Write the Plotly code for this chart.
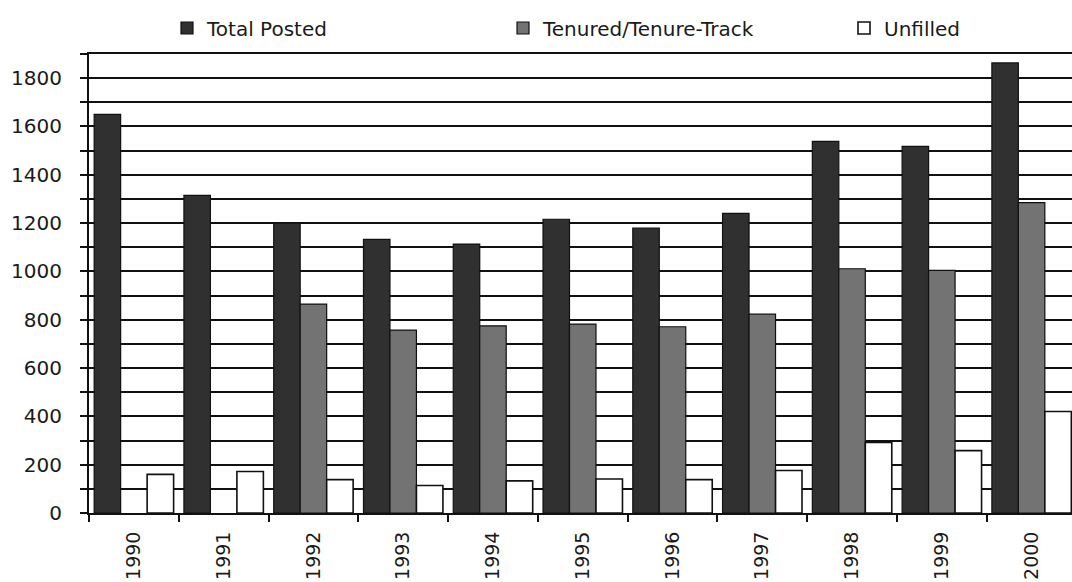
import plotly.graph_objects as go

years = ["1990", "1991", "1992", "1993", "1994", "1995", "1996", "1997", "1998", "1999", "2000"]
total_posted = [1650, 1315, 1200, 1133, 1113, 1216, 1179, 1240, 1538, 1518, 1863]
tenured_track = [None, None, 865, 757, 775, 782, 771, 823, 1011, 1004, 1285]
unfilled = [160, 172, 138, 114, 133, 141, 138, 176, 292, 258, 420]

y_tick_vals = [0, 200, 400, 600, 800, 1000, 1200, 1400, 1600, 1800]
y_tick_text = ["0", "200", "400", "600", "800", "1000", "1200", "1400", "1600", "1800"]

FONT = "DejaVu Sans"
INK = "#1a1a1a"

fig = go.Figure()
fig.add_trace(go.Bar(x=years, y=total_posted, name="Total Posted",
                     marker=dict(color="#303030", line=dict(color="#111", width=1.2)),
                     legend="legend", showlegend=True))
fig.add_trace(go.Bar(x=years, y=tenured_track, name="Tenured/Tenure-Track",
                     marker=dict(color="#737373", line=dict(color="#111", width=1.2)),
                     legend="legend2", showlegend=True))
fig.add_trace(go.Bar(x=years, y=unfilled, name="Unfilled",
                     marker=dict(color="#ffffff", line=dict(color="#111", width=1.6)),
                     legend="legend3", showlegend=True))

leg_common = dict(orientation="h", yref="container", xref="container",
                  yanchor="middle", y=1 - 28 / 582, xanchor="left",
                  font=dict(family=FONT, size=20, color=INK),
                  bgcolor="rgba(0,0,0,0)", borderwidth=0)

fig.update_layout(
    width=1072, height=582,
    showlegend=True,
    margin=dict(l=89, r=0, t=54, b=69, autoexpand=False),
    paper_bgcolor="white", plot_bgcolor="white",
    barmode="group", bargap=0.115, bargroupgap=0,
    font=dict(family=FONT, size=20, color=INK),
    legend=dict(x=167 / 1072, **leg_common),
    legend2=dict(x=503 / 1072, **leg_common),
    legend3=dict(x=844 / 1072, **leg_common),
    xaxis=dict(type="category", range=[-0.5, 10.45], automargin=False,
               showline=True, linecolor="#111", linewidth=2, mirror=True,
               ticks="outside", ticklen=7, tickwidth=2, tickcolor="#111",
               tickson="boundaries", tickangle=-90, ticklabelstandoff=9,
               tickfont=dict(family=FONT, size=19, color=INK),
               showgrid=False),
    yaxis=dict(range=[0, 1900], tickvals=y_tick_vals, ticktext=y_tick_text,
               automargin=False,
               showline=True, linecolor="#111", linewidth=2,
               ticks="outside", ticklen=7, tickwidth=2, tickcolor="#111",
               ticklabelstandoff=14,
               showgrid=True, gridcolor="#111", gridwidth=2, zeroline=False,
               tickfont=dict(family=FONT, size=20, color=INK),
               minor=dict(dtick=100, tick0=0, showgrid=True, gridcolor="#111", gridwidth=2,
                          ticks="outside", ticklen=7, tickwidth=2, tickcolor="#111")),
)

fig.write_html("out.html", config={"displayModeBar": False},
               post_script="document.body.style.margin='0px';")
